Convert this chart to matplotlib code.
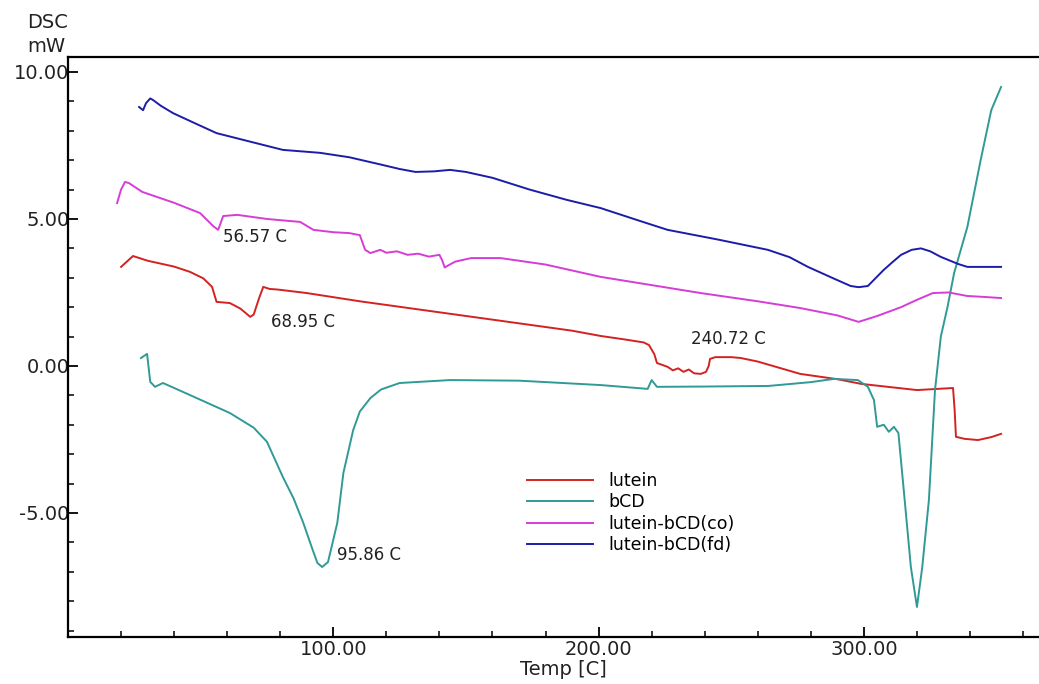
import numpy as np
import matplotlib
matplotlib.use("Agg")
import matplotlib.pyplot as plt
from matplotlib.ticker import MultipleLocator, FixedLocator

# DSC curves (temperature in C, heat flow in mW)
lutein_t = [20, 24.5, 30, 40, 46, 51, 54.3, 56, 61, 65, 68.7, 70, 72, 73.6, 76, 79, 90, 110,
            130, 150, 170, 190, 200.8, 210, 217, 219, 221, 222, 226, 228, 230, 232, 234, 236,
            238.5, 240.5, 241.5, 242, 244, 250, 253.6, 260, 276, 290, 299, 310, 320, 333.6,
            334.2, 334.7, 338, 343, 348, 351.7]
lutein_y = [3.37, 3.74, 3.58, 3.38, 3.2, 2.98, 2.69, 2.18, 2.14, 1.95, 1.67, 1.75, 2.3, 2.69,
            2.62, 2.6, 2.48, 2.2, 1.95, 1.7, 1.45, 1.2, 1.02, 0.9, 0.8, 0.71, 0.4, 0.1, -0.03,
            -0.15, -0.08, -0.2, -0.12, -0.25, -0.27, -0.2, 0.0, 0.24, 0.3, 0.3, 0.27, 0.15,
            -0.27, -0.45, -0.61, -0.72, -0.82, -0.75, -1.5, -2.41, -2.48, -2.52, -2.42, -2.31]

bcd_t = [27.5, 29.8, 31, 32.8, 35.8, 45, 61, 70, 75, 81, 85, 88.7, 92, 94, 95.8, 98, 101.5,
         103.8, 107.5, 110, 114, 118, 125, 144, 170, 200.8, 218.5, 220, 222, 240, 264, 280,
         288.7, 297.7, 301.5, 303.8, 305, 307.5, 309.4, 311.3, 313, 315, 317.7, 320, 322,
         324.5, 326.8, 329, 331.5, 334, 339, 344, 348, 351.7]
bcd_y = [0.27, 0.41, -0.54, -0.71, -0.58, -0.95, -1.6, -2.1, -2.58, -3.78, -4.5, -5.34, -6.2,
         -6.7, -6.84, -6.67, -5.34, -3.64, -2.18, -1.55, -1.09, -0.8, -0.58, -0.48, -0.5,
         -0.65, -0.78, -0.48, -0.71, -0.7, -0.68, -0.55, -0.44, -0.48, -0.71, -1.16, -2.07,
         -2.0, -2.24, -2.07, -2.28, -4.2, -6.84, -8.2, -6.84, -4.56, -0.82, 1.0, 2.0, 3.16,
         4.73, 7.0, 8.7, 9.49]

co_t = [18.5, 20, 21.5, 23, 28, 40, 49.8, 54.7, 56.6, 58.5, 63.8, 75, 87.5, 92.5, 100, 106,
        110, 111, 112, 114, 117.7, 120, 124, 128, 132, 136, 140, 141, 142, 143.5, 146, 152,
        163, 180, 200.8, 220, 238.5, 260, 276, 290, 298, 305, 314, 320, 326, 332, 339, 345,
        351.7]
co_y = [5.54, 6.0, 6.26, 6.22, 5.92, 5.55, 5.2, 4.76, 4.63, 5.1, 5.14, 5.0, 4.9, 4.63, 4.55,
        4.52, 4.45, 4.2, 3.95, 3.84, 3.95, 3.85, 3.9, 3.78, 3.82, 3.72, 3.78, 3.6, 3.35, 3.43,
        3.55, 3.67, 3.67, 3.45, 3.03, 2.75, 2.48, 2.2, 1.97, 1.72, 1.5, 1.7, 2.0, 2.25, 2.48,
        2.5, 2.38, 2.35, 2.31]

fd_t = [26.8, 28.3, 29.4, 31, 32, 35, 39.6, 48, 56, 70, 81, 95, 106, 118, 125, 131, 138, 144,
        150, 160, 174, 188, 200.8, 215, 226, 245, 263.8, 272, 278.9, 288, 295, 298, 301.5,
        304, 307.5, 311, 314, 318, 321.5, 325, 329, 335.5, 339, 345, 351.7]
fd_y = [8.81, 8.7, 8.94, 9.1, 9.05, 8.85, 8.6, 8.25, 7.92, 7.6, 7.35, 7.25, 7.1, 6.85, 6.7,
        6.6, 6.62, 6.67, 6.6, 6.4, 6.0, 5.65, 5.37, 4.95, 4.63, 4.3, 3.95, 3.7, 3.37, 3.0,
        2.72, 2.68, 2.72, 2.95, 3.27, 3.55, 3.78, 3.95, 4.0, 3.9, 3.71, 3.47, 3.37, 3.37, 3.37]

labels = ["lutein", "bCD", "lutein-bCD(co)", "lutein-bCD(fd)"]
colors = ["#d42222", "#2f9a96", "#d63cd6", "#1c1ca8"]

# peak labels and which curve they belong to
peak_temps = [56.57, 68.95, 95.86, 240.72]
peak_curve = [2, 0, 1, 0]
peak_offsets = [(5, -7), (20, -6), (15, 12), (-16, 32)]  # pixels

plt.rcParams['font.family'] = 'DejaVu Sans'

fig = plt.figure(figsize=(10.39, 6.84), dpi=100)
ax = fig.add_axes([68 / 1039, 1 - 637 / 684, 1 - 68 / 1039, (637 - 57) / 684])

curves = [(lutein_t, lutein_y), (bcd_t, bcd_y), (co_t, co_y), (fd_t, fd_y)]
for (t, y), lab, col in zip(curves, labels, colors):
    ax.plot(t, y, color=col, lw=1.4, label=lab)

for pt, ci, off in zip(peak_temps, peak_curve, peak_offsets):
    t, y = curves[ci]
    py = np.interp(pt, t, y)
    ax.annotate(f"{pt:.2f} C", xy=(pt, py), xytext=off, textcoords='offset pixels',
                fontsize=12, va='center', ha='left', color='#222222')

ax.set_xlim(0, 366)
ax.set_ylim(-9.22, 10.51)

ax.xaxis.set_major_locator(FixedLocator([100, 200, 300]))
ax.xaxis.set_minor_locator(MultipleLocator(20))
ax.yaxis.set_major_locator(FixedLocator([-5, 0, 5, 10]))
ax.yaxis.set_minor_locator(MultipleLocator(1))
ax.set_xticklabels(["100.00", "200.00", "300.00"], fontsize=14, color='#222222')
ax.set_yticklabels(["-5.00", "0.00", "5.00", "10.00"], fontsize=14, color='#222222')
ax.tick_params(which='major', direction='in', length=7, width=1.3, pad=2)
ax.tick_params(which='minor', direction='in', length=4, width=1.1)
ax.tick_params(axis='y', which='major', pad=-1)

for s in ['left', 'bottom', 'top']:
    ax.spines[s].set_linewidth(1.6)
ax.spines['right'].set_visible(False)

ax.set_xlabel("Temp [C]", fontsize=14, color='#222222')
ax.xaxis.set_label_coords((563 - 68) / (1039 - 68), -0.04)

fig.text(27 / 1039, 1 - 22 / 684, "DSC", fontsize=14, va='center', ha='left', color='#222222')
fig.text(27 / 1039, 1 - 47 / 684, "mW", fontsize=14, va='center', ha='left', color='#222222')

ax.legend(loc='upper left', bbox_to_anchor=(527 / 1039, 1 - 472 / 684),
          bbox_transform=fig.transFigure, frameon=False, fontsize=12.5,
          handlelength=3.8, handletextpad=0.9, labelspacing=0.2, borderpad=0,
          borderaxespad=0)

fig.savefig("out.png", dpi=100)
